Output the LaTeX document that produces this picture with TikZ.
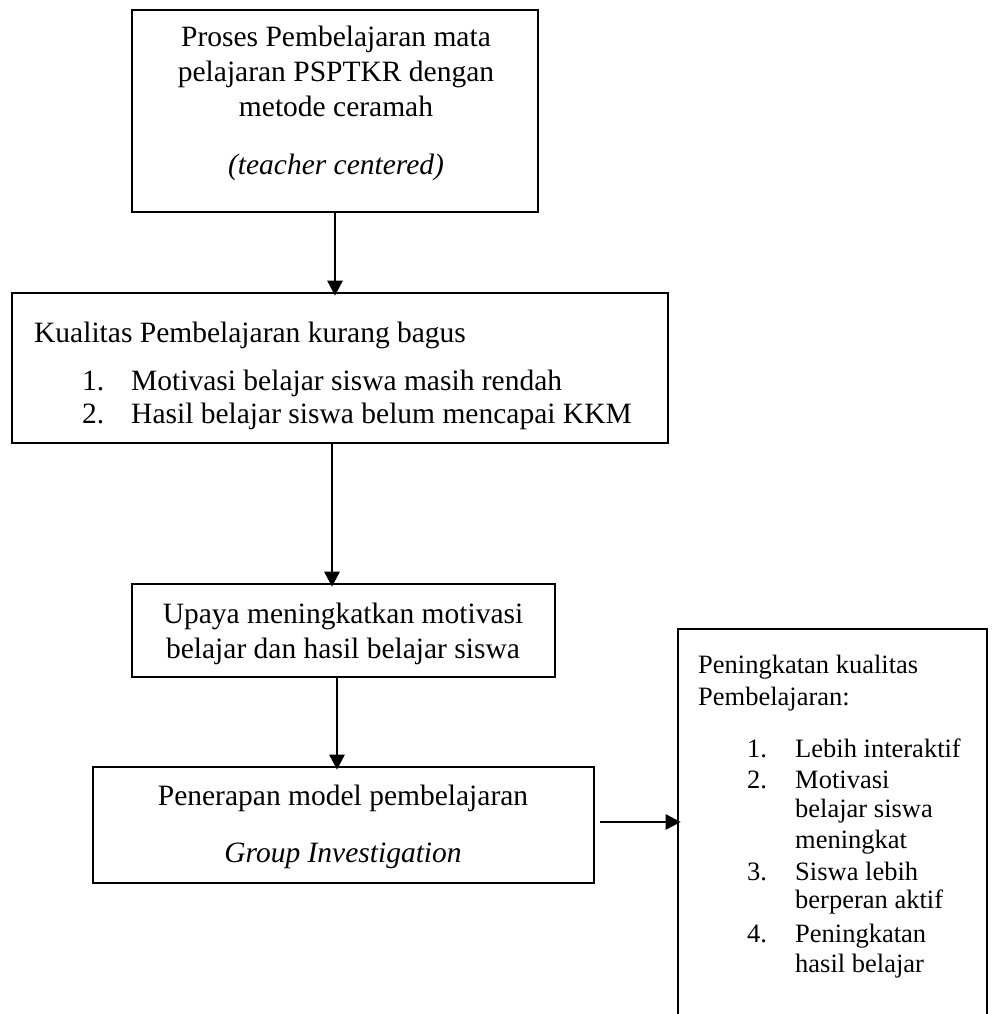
\documentclass[tikz,border=0pt]{standalone}
\usepackage{fontspec}
\setmainfont{Liberation Serif}
\usetikzlibrary{arrows.meta}
\begin{document}
\begin{tikzpicture}[x=1pt,y=-1pt,
 box/.style={draw, line width=2.6pt, rectangle, inner sep=0pt},
 arr/.style={line width=2.6pt, shorten >=-4pt, -{Triangle[length=15pt,width=15pt]}},
 txt/.style={font=\fontsize{29.5}{35}\selectfont, inner sep=0pt, anchor=base},
 txl/.style={txt, anchor=base west},
 sm/.style={font=\fontsize{26.5}{31.5}\selectfont, inner sep=0pt, anchor=base west}]
\useasboundingbox (0,0) rectangle (995,1014);
\clip (0,0) rectangle (995,1014);
% boxes
\node[box, minimum width=406pt, minimum height=202pt] (b1) at (335,111) {};
\node[box, minimum width=656pt, minimum height=150pt] (b2) at (340,368) {};
\node[box, minimum width=423pt, minimum height=93pt] (b3) at (343.5,630.5) {};
\node[box, minimum width=501pt, minimum height=116pt] (b4) at (343.5,825) {};
\node[box, minimum width=309pt, minimum height=411pt] (b5) at (832.5,834.5) {};
% box 1 text
\node[txt] (t1a) at (336,47) {Proses Pembelajaran mata};
\node[txt] (t1b) at (336,82) {pelajaran PSPTKR dengan};
\node[txt] (t1c) at (336,117) {metode ceramah};
\node[txt] (t1d) at (336,174) {\itshape (teacher centered)};
% box 2 text
\node[txl] (t2) at (34,342) {Kualitas Pembelajaran kurang bagus};
\node[txl] (n21) at (82,390) {1.};
\node[txl] (i21) at (131,390) {Motivasi belajar siswa masih rendah};
\node[txl] (n22) at (82,423) {2.};
\node[txl] (i22) at (131,423) {Hasil belajar siswa belum mencapai KKM};
% box 3 text
\node[txt] (t3a) at (343,623) {Upaya meningkatkan motivasi};
\node[txt] (t3b) at (343,658) {belajar dan hasil belajar siswa};
% box 4 text
\node[txt] (t4a) at (343,805) {Penerapan model pembelajaran};
\node[txt] (t4b) at (343,862) {\itshape Group Investigation};
% box 5 text
\node[sm] (t5a) at (698,673) {Peningkatan kualitas};
\node[sm] (t5b) at (698,705) {Pembelajaran:};
\node[sm] (n51) at (747,757) {1.};
\node[sm] (i51) at (795,757) {Lebih interaktif};
\node[sm] (n52) at (747,788) {2.};
\node[sm] (i52a) at (795,788) {Motivasi};
\node[sm] (i52b) at (795,817) {belajar siswa};
\node[sm] (i52c) at (795,848) {meningkat};
\node[sm] (n53) at (747,880) {3.};
\node[sm] (i53a) at (795,880) {Siswa lebih};
\node[sm] (i53b) at (795,908) {berperan aktif};
\node[sm] (n54) at (747,942) {4.};
\node[sm] (i54a) at (795,942) {Peningkatan};
\node[sm] (i54b) at (795,972) {hasil belajar};
% arrows
\draw[arr] (b1.south) -- (b1.south |- b2.north);
\draw[arr] ([xshift=-11.5pt]b3.north |- b2.south) -- ([xshift=-11.5pt]b3.north);
\draw[arr] ([xshift=-6.5pt]b4.north |- b3.south) -- ([xshift=-6.5pt]b4.north);
\draw[arr] ([xshift=5pt,yshift=3pt]b4.east) -- ([yshift=3pt]b4.east -| b5.west);
\end{tikzpicture}
\end{document}
